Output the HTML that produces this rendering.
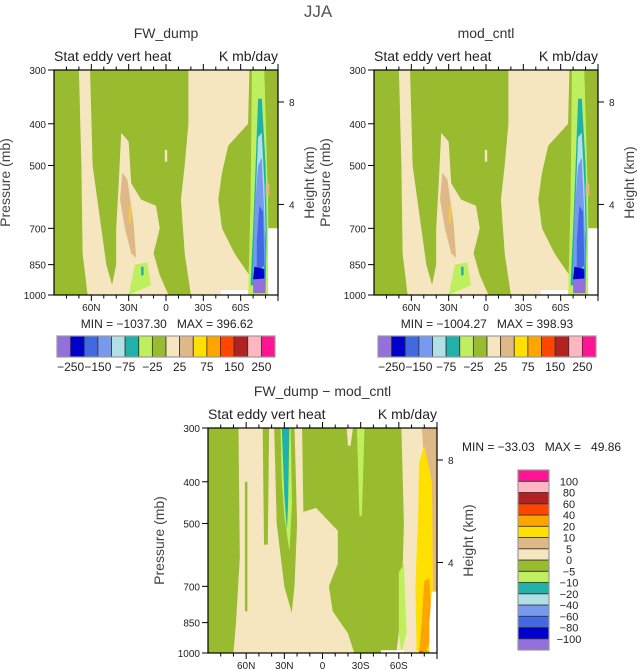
<!DOCTYPE html>
<html><head><meta charset="utf-8">
<style>
html,body{margin:0;padding:0;background:#fff;}
svg{display:block;font-family:"Liberation Sans",sans-serif;}
</style></head>
<body>
<svg id="chart" width="637" height="671" viewBox="0 0 637 671" xmlns="http://www.w3.org/2000/svg">
<text x="318" y="17" text-anchor="middle" font-size="17" fill="#555">JJA</text>
</svg>
<script>
// ---------- data ----------
const fullLevels = [-250,-200,-150,-100,-75,-50,-25,0,25,50,75,100,150,200,250];
const fullLabels = ["−250","","−150","","−75","","−25","","25","","75","","150","","250"];
const diffLevels = [-100,-80,-60,-40,-20,-10,-5,0,5,10,20,40,60,80,100];
const diffLabels = ["−100","−80","−60","−40","−20","−10","−5","0","5","10","20","40","60","80","100"];
const palette = ["#9370DB","#0000CD","#4169E1","#7799EE","#B0E0E6","#20B2AA","#BFEF5F","#98BB30","#F5E6C0","#DEB887","#FFE000","#FFA500","#FF4500","#B22222","#FFB6C1","#FF1493"];
const pressureTicks = [300,400,500,700,850,1000];
const heightTicks = [8,4];
const heightTickPressure = [356,616];
const latTicks = [60,30,0,-30,-60];
const latTickLabels = ["60N","30N","0","30S","60S"];

const fwValues = [10,10,40,60,10,-30,-30,10,-60,-80,-120,-170,-220,-300,40,120];
const fwShapes = [
 [[70,300],[61,300],[59,500],[52,700],[48,850],[41,1000],[63,1000],[67,800],[68,500]],
 [[36,420],[30,440],[28,550],[20,600],[8,620],[5,700],[10,800],[5,900],[-2,1000],[45,1000],[40,850],[40,700],[38,550]],
 [[35,520],[31,540],[26,680],[24,820],[28,800],[33,700],[37,600]],
 [[29.5,620],[28.5,620],[28.5,680],[29.5,680]],
 [[-18,300],[-67,300],[-66,400],[-50,450],[-45,520],[-42,600],[-45,700],[-55,800],[-67,900],[-67,1000],[-20,1000],[-15,800],[-12,600],[-15,500],[-18,400]],
 [[-69,300],[-79,300],[-82,600],[-83,1000],[-66,1000],[-68,600]],
 [[25,850],[15,840],[12,950],[30,1000]],
 [[1,460],[-1,460],[-1,490],[1,490]],
 [[-74,350],[-77,350],[-80,500],[-81,700],[-80,950],[-68,950],[-70,700],[-72,500]],
 [[-74,430],[-77,420],[-79,550],[-80,700],[-78,900],[-70,900],[-72,600]],
 [[-74,500],[-77,480],[-79,650],[-80,850],[-70,900],[-71,650]],
 [[-75,620],[-78,640],[-79,850],[-73,900],[-73,750]],
 [[-71,860],[-79,870],[-79,920],[-70,920]],
 [[-70,920],[-80,915],[-80,990],[-70,990]],
 [[-80,550],[-83,550],[-83,590],[-80,590]],
 [[-83,770],[-85,760],[-85,840],[-83,840]]
];
const fwTeal = [[20,860],[18,860],[18,900],[20,900]];
const fwMissing = [
 [[-82,700],[-90,700],[-90,1000],[-82,1000]],
 [[-44,975],[-66,975],[-66,1000],[-44,1000]]
];
const diffValues = [2,-2,-2,-7,-15,2,-7,2,2,7,15,30,-7,50];
const diffShapes = [
 [[66,300],[38,300],[36,500],[30,700],[22,850],[18,1000],[70,1000],[68,850],[65,600]],
 [[61,400],[59,400],[59,800],[61,800]],
 [[47,300],[42,300],[43,560],[46,560]],
 [[33,300],[25,300],[24,450],[26,580],[30,480],[32,400]],
 [[32,300],[26,300],[27,450],[28,520],[30,430]],
 [[22,300],[16,300],[15,470],[5,460],[-12,520],[-12,620],[-5,700],[-8,800],[-20,900],[-25,1000],[20,1000],[25,850],[22,700],[20,500]],
 [[-27,300],[-33,300],[-31,480],[-29,480]],
 [[-19,300],[-24,300],[-22,330],[-20,330]],
 [[-62,300],[-80,300],[-82,700],[-76,1000],[-58,1000],[-62,800],[-64,500]],
 [[-78,300],[-90,300],[-90,720],[-85,720],[-80,360]],
 [[-76,360],[-80,330],[-86,400],[-87,700],[-86,990],[-74,990],[-73,700],[-75,500]],
 [[-80,680],[-84,670],[-86,900],[-82,990],[-76,990],[-78,850]],
 [[-60,650],[-64,620],[-66,900],[-62,1000],[-60,900]],
 [[-76,990],[-79,990],[-79,1000],[-76,1000]]
];
const diffMissing = [
 [[-86,720],[-90,720],[-90,1000],[-84,1000],[-84,850]],
 [[-46,985],[-64,985],[-64,1000],[-46,1000]]
];

// ---------- drawing ----------
const NS="http://www.w3.org/2000/svg";
const svg=document.getElementById('chart');
function mk(tag,attrs,parent){const e=document.createElementNS(NS,tag);for(const k in attrs)e.setAttribute(k,attrs[k]);(parent||svg).appendChild(e);return e;}
function colorFor(v,levels){let i=0;while(i<levels.length&&v>=levels[i])i++;return palette[i];}

function panel(g, P, values, shapes, missing, levels, base, extra){
  const xS=lat=>P.x+(90-lat)/180*P.w;
  const yS=p=>P.y+Math.log(p/300)/Math.log(1000/300)*P.h;
  const grp=mk('g',{});
  
  
  const bg=mk('rect',{x:P.x,y:P.y,width:P.w,height:P.h,fill:colorFor(base,levels)},grp);
  
  
  const draw=(pts,fill,name)=>{const e=mk('polygon',{points:pts.map(q=>xS(q[0]).toFixed(1)+','+yS(q[1]).toFixed(1)).join(' '),fill:fill},grp);
    
    };
  shapes.forEach((s,i)=>draw(s,colorFor(values[i],levels),'contour-region'));
  if(extra) draw(extra,palette[5],'contour-region');
  missing.forEach(s=>draw(s,'#ffffff','missing-data'));
  mk('rect',{x:P.x,y:P.y,width:P.w,height:P.h,fill:'none',stroke:'#000','stroke-width':1.2},grp);
  for(let lat=80;lat>=-90;lat-=10){const x=xS(lat);const major=lat%30===0;const L=major?6:3.5;
    mk('line',{x1:x,y1:P.y+P.h,x2:x,y2:P.y+P.h+L,stroke:'#000','stroke-width':1},grp);
    mk('line',{x1:x,y1:P.y,x2:x,y2:P.y-L,stroke:'#000','stroke-width':1},grp);}
  latTicks.forEach((lat,i)=>{const t=mk('text',{x:xS(lat),y:P.y+P.h+16,'text-anchor':'middle','font-size':10,fill:'#222'},grp);t.textContent=latTickLabels[i];
    
    });
  pressureTicks.forEach(p=>{const y=yS(p);mk('line',{x1:P.x-6,y1:y,x2:P.x,y2:y,stroke:'#000','stroke-width':1},grp);
    const t=mk('text',{x:P.x-8,y:y+4,'text-anchor':'end','font-size':10,fill:'#222'},grp);t.textContent=p;
    
    });
  heightTicks.forEach((h,i)=>{const y=yS(heightTickPressure[i]);mk('line',{x1:P.x+P.w,y1:y,x2:P.x+P.w+6,y2:y,stroke:'#000','stroke-width':1},grp);
    const t=mk('text',{x:P.x+P.w+11,y:y+4,'font-size':10,fill:'#222'},grp);t.textContent=h;
    
    });
  const cx=P.x+P.w/2, cy=P.y+P.h/2;
  let t=mk('text',{x:P.x-44,y:cy,'text-anchor':'middle','font-size':14,fill:'#444',transform:`rotate(-90 ${P.x-44} ${cy})`},grp);t.textContent='Pressure (mb)';
  
  t=mk('text',{x:P.x+P.w+36,y:cy,'text-anchor':'middle','font-size':14,fill:'#444',transform:`rotate(-90 ${P.x+P.w+36} ${cy})`},grp);t.textContent='Height (km)';
  
  t=mk('text',{x:P.x,y:P.y-9,'font-size':14,fill:'#222'},grp);t.textContent='Stat eddy vert heat';
  
  t=mk('text',{x:P.x+P.w,y:P.y-9,'text-anchor':'end','font-size':14,fill:'#222'},grp);t.textContent='K mb/day';
  
  t=mk('text',{x:cx,y:P.y-32,'text-anchor':'middle','font-size':14,fill:'#333'},grp);t.textContent=g.title;
  
}

function hbar(x,y,w,h,levels,labels,name){
  const grp=mk('g',{});
  
  
  const bw=w/palette.length;
  palette.forEach((c,i)=>{const r=mk('rect',{x:x+i*bw,y:y,width:bw,height:h,fill:c,stroke:'#333','stroke-width':0.8},grp);
    });
  mk('rect',{x:x,y:y,width:w,height:h,fill:'none',stroke:'#999','stroke-width':1.2},grp);
  levels.forEach((v,i)=>{if(!labels[i])return;const t=mk('text',{x:x+(i+1)*bw,y:y+h+14,'text-anchor':'middle','font-size':12,fill:'#222'},grp);t.textContent=labels[i];
    });
}
function vbar(x,y,w,h,levels,labels,name){
  const grp=mk('g',{});
  
  
  const n=palette.length,bh=h/n;
  palette.forEach((c,i)=>{const r=mk('rect',{x:x,y:y+(n-1-i)*bh,width:w,height:bh,fill:c,stroke:'#333','stroke-width':0.8},grp);
    });
  mk('rect',{x:x,y:y,width:w,height:h,fill:'none',stroke:'#999','stroke-width':1.2},grp);
  levels.forEach((v,i)=>{const t=mk('text',{x:x+w+20,y:y+(n-1-i)*bh+4,'text-anchor':'middle','font-size':11,fill:'#222'},grp);t.textContent=labels[i];
    });
}
function txt(x,y,s,name,anchor){const t=mk('text',{x:x,y:y,'text-anchor':anchor||'middle','font-size':12,fill:'#222'});t.textContent=s;
  }

panel({name:'panel-fw-dump',title:'FW_dump'},{x:54,y:70,w:224,h:225},fwValues,fwShapes,fwMissing,fullLevels,-10,fwTeal);
panel({name:'panel-mod-cntl',title:'mod_cntl'},{x:374,y:70,w:224,h:225},fwValues,fwShapes,fwMissing,fullLevels,-10,fwTeal);
panel({name:'panel-difference',title:'FW_dump − mod_cntl'},{x:208,y:428,w:229,h:225},diffValues,diffShapes,diffMissing,diffLevels,-2,null);
txt(167,328,'MIN = −1037.30\u00a0\u00a0\u00a0MAX = 396.62','min-max-fw-dump');
txt(487,328,'MIN = −1004.27\u00a0\u00a0\u00a0MAX = 398.93','min-max-mod-cntl');
txt(462,451,'MIN = −33.03\u00a0\u00a0\u00a0MAX =\u00a0\u00a0\u00a049.86','min-max-difference','start');
hbar(57,336,218,21,fullLevels,fullLabels,'colorbar-fw-dump');
hbar(378,336,218,21,fullLevels,fullLabels,'colorbar-mod-cntl');
vbar(518,470,31,180,diffLevels,diffLabels,'colorbar-difference');
</script>
</body></html>
